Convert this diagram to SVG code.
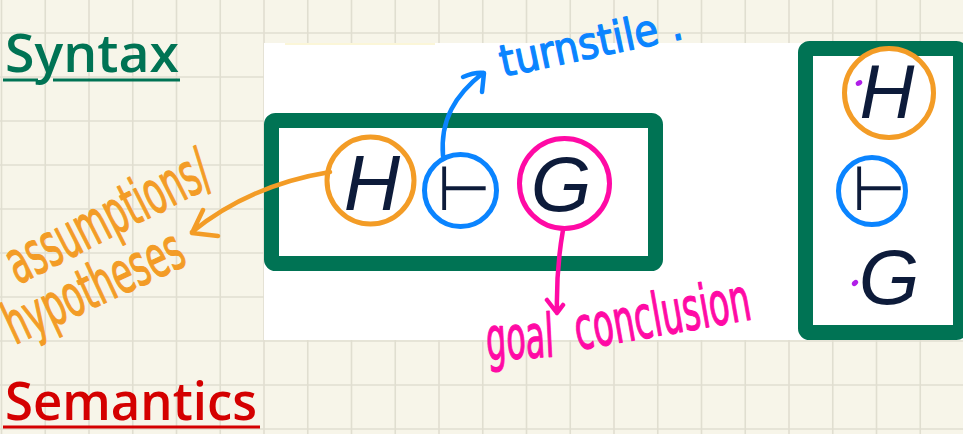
<svg xmlns="http://www.w3.org/2000/svg" width="963" height="434" viewBox="0 0 963 434">
<style>
.grid line{stroke:#e0ded0;stroke-width:1.6}
.box{fill:#ffffff;stroke:#007354;stroke-width:15}
.c-or{fill:#ffffff;stroke:#f39c26;stroke-width:5}
.c-bl{fill:#ffffff;stroke:#0a84ff;stroke-width:5}
.c-pk{fill:#ffffff;stroke:#ff0aa5;stroke-width:5}
.sym{font-family:"Liberation Sans",Arial,sans-serif;font-style:italic;fill:#0d1b3a;text-anchor:middle}
.ts{font-family:"DejaVu Sans",sans-serif;fill:#0d1b3a;font-size:62px}
.hand{font-family:"DejaVu Sans Condensed","Liberation Sans Narrow","DejaVu Sans",sans-serif;font-weight:normal;stroke-width:1.2;stroke-linejoin:round}
.title{font-family:"Open Sans","Noto Sans",sans-serif;font-size:53px;font-weight:600}
.arrow{fill:none;stroke-width:4.5;stroke-linecap:round;stroke-linejoin:round}
</style>
<rect x="0" y="0" width="963" height="434" fill="#f7f5e9"/>
<g class="grid">
<line x1="1.5" y1="0" x2="1.5" y2="434"/><line x1="45.25" y1="0" x2="45.25" y2="434"/><line x1="89" y1="0" x2="89" y2="434"/><line x1="132.75" y1="0" x2="132.75" y2="434"/><line x1="176.5" y1="0" x2="176.5" y2="434"/><line x1="220.25" y1="0" x2="220.25" y2="434"/><line x1="264" y1="0" x2="264" y2="434"/><line x1="307.75" y1="0" x2="307.75" y2="434"/><line x1="351.5" y1="0" x2="351.5" y2="434"/><line x1="395.25" y1="0" x2="395.25" y2="434"/><line x1="439" y1="0" x2="439" y2="434"/><line x1="482.75" y1="0" x2="482.75" y2="434"/><line x1="526.5" y1="0" x2="526.5" y2="434"/><line x1="570.25" y1="0" x2="570.25" y2="434"/><line x1="614" y1="0" x2="614" y2="434"/><line x1="657.75" y1="0" x2="657.75" y2="434"/><line x1="701.5" y1="0" x2="701.5" y2="434"/><line x1="745.25" y1="0" x2="745.25" y2="434"/><line x1="789" y1="0" x2="789" y2="434"/><line x1="832.75" y1="0" x2="832.75" y2="434"/><line x1="876.5" y1="0" x2="876.5" y2="434"/><line x1="920.25" y1="0" x2="920.25" y2="434"/>
<line x1="0" y1="33" x2="963" y2="33"/><line x1="0" y1="77" x2="963" y2="77"/><line x1="0" y1="121" x2="963" y2="121"/><line x1="0" y1="165" x2="963" y2="165"/><line x1="0" y1="209" x2="963" y2="209"/><line x1="0" y1="253" x2="963" y2="253"/><line x1="0" y1="297" x2="963" y2="297"/><line x1="0" y1="341" x2="963" y2="341"/><line x1="0" y1="385" x2="963" y2="385"/><line x1="0" y1="429" x2="963" y2="429"/>
</g>
<rect x="264" y="43" width="699" height="297" fill="#ffffff"/>
<rect x="285" y="43" width="150" height="2" fill="#fbf6d8"/>

<g id="title-syntax">
<text class="title" x="5" y="72" fill="#007354" textLength="174" lengthAdjust="spacingAndGlyphs">Syntax</text>
<path d="M3,80 H38 M53,80 H180" stroke="#007354" stroke-width="3" fill="none"/>
</g>
<g id="title-semantics">
<text class="title" x="5" y="420" fill="#d40000" textLength="252" lengthAdjust="spacingAndGlyphs">Semantics</text>
<path d="M3,427 H260" stroke="#d40000" stroke-width="3" fill="none"/>
</g>

<g id="sequent-horizontal">
<rect class="box" x="271.5" y="120.5" width="384" height="143" rx="4"/>
<g id="h-node">
<circle class="c-or" cx="370.5" cy="180.5" r="43.5"/>
<text class="sym" x="372" y="210" font-size="78">H</text>
</g>
<g id="turnstile-node">
<circle class="c-bl" cx="460.5" cy="190.5" r="36"/>
<text class="ts" x="437" y="210">⊢</text>
</g>
<g id="g-node">
<circle class="c-pk" cx="564.5" cy="183.5" r="45"/>
<text class="sym" x="561" y="211" font-size="78">G</text>
</g>
</g>

<g id="sequent-vertical">
<rect class="box" x="805.5" y="48.5" width="155" height="284" rx="4"/>
<g id="h-node-v">
<circle class="c-or" cx="889" cy="93" r="44.5"/>
<text class="sym" x="887" y="118" font-size="76">H</text>
<ellipse cx="859" cy="83" rx="3.5" ry="2.5" transform="rotate(-30 859 83)" fill="#b01ee8"/>
</g>
<g id="turnstile-node-v">
<circle class="c-bl" cx="872" cy="191" r="33.5"/>
<text class="ts" x="852" y="210">⊢</text>
</g>
<g id="g-node-v">
<text class="sym" x="889" y="304" font-size="78">G</text>
<ellipse cx="855" cy="283" rx="3.5" ry="2.5" transform="rotate(-40 855 283)" fill="#b01ee8"/>
</g>
</g>

<g id="connectors">
<path class="arrow" stroke="#0a84ff" d="M443,156 C440,120 455,95 483,73 M463,77 Q475,72 484,73 L482,92"/>
<path class="arrow" stroke="#f39c26" d="M330,172 Q250,185 192,232 M203,210 L192,233 L218,236"/>
<path class="arrow" stroke="#ff0aa5" d="M563,230 Q556,270 557,313 M547,300 L557,313 L563,305"/>
</g>

<g id="annotations">
<text class="hand" x="503" y="77" font-size="44" fill="#0a84ff" stroke="#0a84ff" transform="rotate(-12 503 77)" textLength="186" lengthAdjust="spacingAndGlyphs">turnstile .</text>
<text class="hand" x="18" y="285" font-size="60" fill="#f39c26" stroke="#f39c26" transform="rotate(-27 18 285)" textLength="222" lengthAdjust="spacingAndGlyphs">assumptions/</text>
<text class="hand" x="15" y="345" font-size="58" fill="#f39c26" stroke="#f39c26" transform="rotate(-25 15 345)" textLength="192" lengthAdjust="spacingAndGlyphs">hypotheses</text>
<text class="hand" x="487" y="360" font-size="60" fill="#ff0aa5" stroke="#ff0aa5" transform="rotate(-3 487 360)" textLength="68" lengthAdjust="spacingAndGlyphs">goal</text>
<text class="hand" x="578" y="350" font-size="60" fill="#ff0aa5" stroke="#ff0aa5" transform="rotate(-10 578 350)" textLength="178" lengthAdjust="spacingAndGlyphs">conclusion</text>
</g>
</svg>
